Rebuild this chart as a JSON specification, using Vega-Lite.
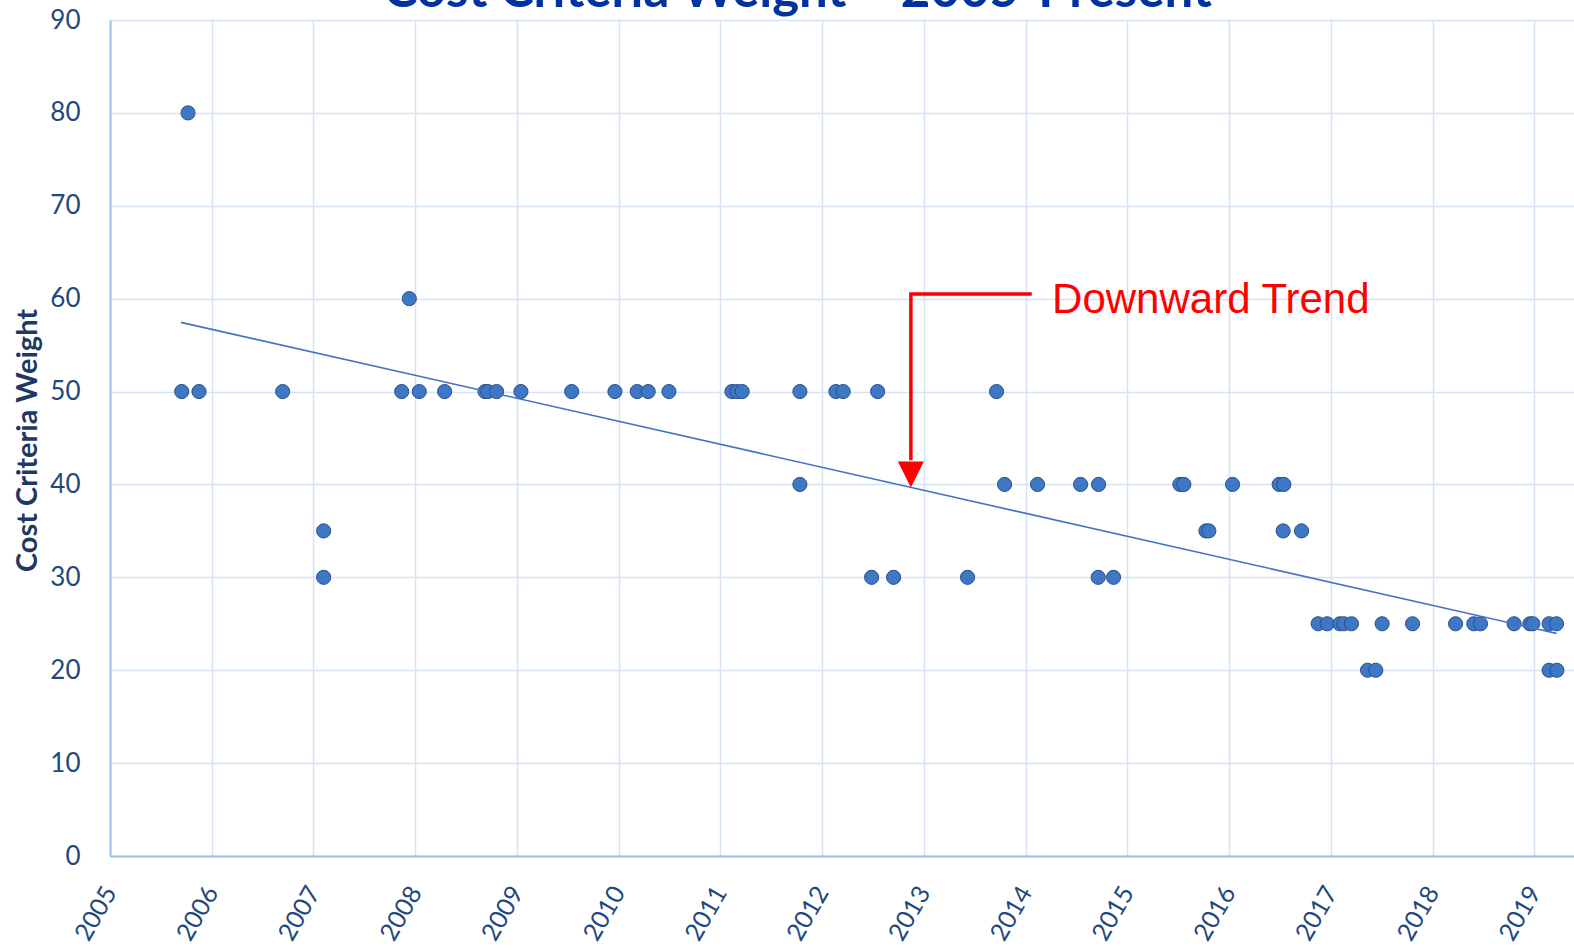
{
  "$schema": "https://vega.github.io/schema/vega-lite/v6.json",
  "autosize": "none",
  "width": 1464,
  "height": 836,
  "padding": {"left": 110, "top": 20, "right": 0, "bottom": 95},
  "background": "white",
  "config": {
    "view": {"stroke": null},
    "axis": {
      "labelFont": "Lato",
      "labelColor": "#1F497D",
      "titleFont": "Lato",
      "titleColor": "#1F3864",
      "gridColor": "#D6E3F4",
      "gridWidth": 1.5,
      "domainColor": "#9DBEE6",
      "domainWidth": 2,
      "ticks": false
    }
  },
  "datasets": {
    "points": [
      {"year": 2005.767, "weight": 80},
      {"year": 2007.942, "weight": 60},
      {"year": 2005.705, "weight": 50},
      {"year": 2005.875, "weight": 50},
      {"year": 2006.697, "weight": 50},
      {"year": 2007.867, "weight": 50},
      {"year": 2008.040, "weight": 50},
      {"year": 2008.289, "weight": 50},
      {"year": 2008.686, "weight": 50},
      {"year": 2008.715, "weight": 50},
      {"year": 2008.800, "weight": 50},
      {"year": 2009.039, "weight": 50},
      {"year": 2009.538, "weight": 50},
      {"year": 2009.963, "weight": 50},
      {"year": 2010.182, "weight": 50},
      {"year": 2010.290, "weight": 50},
      {"year": 2010.494, "weight": 50},
      {"year": 2011.113, "weight": 50},
      {"year": 2011.162, "weight": 50},
      {"year": 2011.214, "weight": 50},
      {"year": 2011.781, "weight": 50},
      {"year": 2012.135, "weight": 50},
      {"year": 2012.207, "weight": 50},
      {"year": 2012.545, "weight": 50},
      {"year": 2013.714, "weight": 50},
      {"year": 2011.781, "weight": 40},
      {"year": 2013.793, "weight": 40},
      {"year": 2014.117, "weight": 40},
      {"year": 2014.540, "weight": 40},
      {"year": 2014.717, "weight": 40},
      {"year": 2015.516, "weight": 40},
      {"year": 2015.555, "weight": 40},
      {"year": 2016.034, "weight": 40},
      {"year": 2016.492, "weight": 40},
      {"year": 2016.538, "weight": 40},
      {"year": 2007.100, "weight": 35},
      {"year": 2015.772, "weight": 35},
      {"year": 2015.801, "weight": 35},
      {"year": 2016.531, "weight": 35},
      {"year": 2016.712, "weight": 35},
      {"year": 2007.100, "weight": 30},
      {"year": 2012.486, "weight": 30},
      {"year": 2012.702, "weight": 30},
      {"year": 2013.429, "weight": 30},
      {"year": 2014.713, "weight": 30},
      {"year": 2014.864, "weight": 30},
      {"year": 2016.875, "weight": 25},
      {"year": 2016.964, "weight": 25},
      {"year": 2017.088, "weight": 25},
      {"year": 2017.128, "weight": 25},
      {"year": 2017.203, "weight": 25},
      {"year": 2017.504, "weight": 25},
      {"year": 2017.803, "weight": 25},
      {"year": 2018.226, "weight": 25},
      {"year": 2018.405, "weight": 25},
      {"year": 2018.471, "weight": 25},
      {"year": 2018.801, "weight": 25},
      {"year": 2018.956, "weight": 25},
      {"year": 2018.985, "weight": 25},
      {"year": 2019.145, "weight": 25},
      {"year": 2019.218, "weight": 25},
      {"year": 2017.361, "weight": 20},
      {"year": 2017.442, "weight": 20},
      {"year": 2019.145, "weight": 20},
      {"year": 2019.222, "weight": 20}
    ],
    "trend": [
      {"year": 2005.697, "weight": 57.45},
      {"year": 2019.218, "weight": 23.97}
    ],
    "bracket": [
      {"seq": 1, "year": 2014.06, "weight": 60.5},
      {"seq": 2, "year": 2012.872, "weight": 60.5},
      {"seq": 3, "year": 2012.872, "weight": 42.6}
    ],
    "arrowhead": [
      {"year": 2012.872, "weight": 41.07}
    ],
    "label": [
      {"year": 2014.26, "weight": 58.45, "text": "Downward Trend"}
    ],
    "heading": [
      {"year": 2011.76, "weight": 91.35, "text": "Cost Criteria Weight – 2005-Present"}
    ]
  },
  "layer": [
    {
      "data": {"name": "points"},
      "mark": {"type": "point", "filled": true, "shape": "circle", "size": 200, "fill": "#3D77C5", "stroke": "#2A4F86", "strokeWidth": 1, "opacity": 1},
      "encoding": {
        "x": {
          "field": "year", "type": "quantitative",
          "scale": {"domain": [2005, 2019.39], "nice": false, "zero": false},
          "axis": {
            "values": [2005, 2006, 2007, 2008, 2009, 2010, 2011, 2012, 2013, 2014, 2015, 2016, 2017, 2018, 2019],
            "format": "d",
            "title": null,
            "labelAngle": -60,
            "labelAlign": "right",
            "labelBaseline": "middle",
            "labelFontSize": 25,
            "labelPadding": 32
          }
        },
        "y": {
          "field": "weight", "type": "quantitative",
          "scale": {"domain": [0, 90], "nice": false},
          "axis": {
            "values": [0, 10, 20, 30, 40, 50, 60, 70, 80, 90],
            "title": "Cost Criteria Weight",
            "titleFontSize": 29,
            "titleFontWeight": "bold",
            "titleAngle": -90,
            "titleX": -83,
            "titleY": 420,
            "titleAlign": "center",
            "titleBaseline": "middle",
            "labelFontSize": 26,
            "labelPadding": 30
          }
        }
      }
    },
    {
      "data": {"name": "trend"},
      "mark": {"type": "line", "color": "#4472C4", "strokeWidth": 1.6},
      "encoding": {
        "x": {"field": "year", "type": "quantitative"},
        "y": {"field": "weight", "type": "quantitative"}
      }
    },
    {
      "data": {"name": "bracket"},
      "mark": {"type": "line", "color": "#FF0000", "strokeWidth": 3.5, "strokeCap": "butt", "strokeJoin": "miter"},
      "encoding": {
        "x": {"field": "year", "type": "quantitative"},
        "y": {"field": "weight", "type": "quantitative"},
        "order": {"field": "seq", "type": "quantitative"}
      }
    },
    {
      "data": {"name": "arrowhead"},
      "mark": {"type": "point", "filled": true, "shape": "M-1,-1L1,-1L0,1Z", "size": 676, "fill": "#FF0000", "opacity": 1, "strokeWidth": 0},
      "encoding": {
        "x": {"field": "year", "type": "quantitative"},
        "y": {"field": "weight", "type": "quantitative"}
      }
    },
    {
      "data": {"name": "label"},
      "mark": {"type": "text", "font": "Liberation Sans", "fontSize": 42, "color": "#FF0000", "align": "left", "baseline": "alphabetic"},
      "encoding": {
        "x": {"field": "year", "type": "quantitative"},
        "y": {"field": "weight", "type": "quantitative"},
        "text": {"field": "text", "type": "nominal"}
      }
    },
    {
      "data": {"name": "heading"},
      "mark": {"type": "text", "font": "Lato", "fontSize": 51, "fontWeight": "bold", "color": "#0033A0", "align": "center", "baseline": "alphabetic", "clip": false},
      "encoding": {
        "x": {"field": "year", "type": "quantitative"},
        "y": {"field": "weight", "type": "quantitative"},
        "text": {"field": "text", "type": "nominal"}
      }
    }
  ]
}
